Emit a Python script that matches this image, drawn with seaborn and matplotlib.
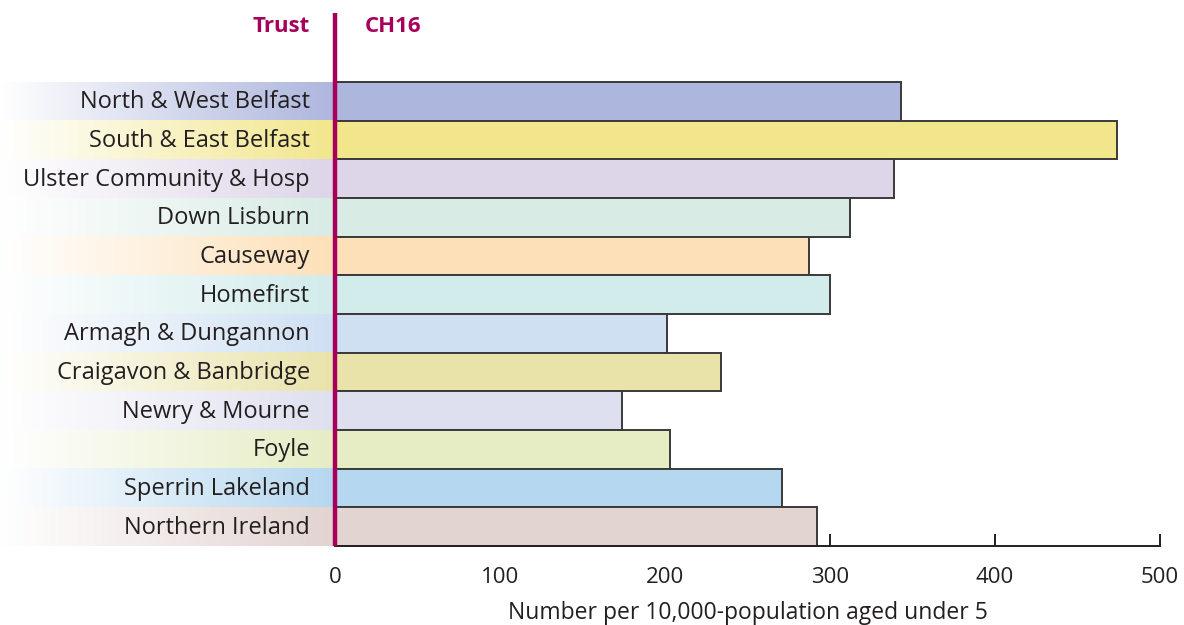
import matplotlib
matplotlib.use("Agg")
from matplotlib import pyplot as plt
from matplotlib.colors import to_rgb
import seaborn as sns
import numpy as np
import pandas as pd

# data
trusts = ["North & West Belfast", "South & East Belfast", "Ulster Community & Hosp",
          "Down Lisburn", "Causeway", "Homefirst", "Armagh & Dungannon",
          "Craigavon & Banbridge", "Newry & Mourne", "Foyle", "Sperrin Lakeland",
          "Northern Ireland"]
rates = [343, 474, 339, 312, 287, 300, 201, 234, 174, 203, 271, 292]
colours = ["#ADB6DD", "#F2E68C", "#DDD5E8", "#D8EBE5", "#FDE0B8", "#D2EBEB",
           "#CFE0F3", "#E9E3AA", "#DFE0EF", "#E6EDC4", "#B5D7EF", "#E2D4D0"]
ticks = [0, 100, 200, 300, 400, 500]

MAGENTA = "#A6005B"
INK = '#231f20'
FONT = ["Open Sans", "DejaVu Sans"]

sns.set_style("white")
plt.rcParams['font.family'] = FONT

df = pd.DataFrame({'trust': trusts, 'rate': rates})

fig = plt.figure(figsize=(11.84, 6.25), dpi=100)
ax = fig.add_axes([0, 1 - 546 / 625, 1, 546 / 625])
ax.set_axisbelow(True)

sns.barplot(data=df, x='rate', y='trust', hue='trust', palette=colours,
            saturation=1, orient='h', width=1, edgecolor='#3a3a3a',
            linewidth=1.4, legend=False, ax=ax, zorder=2)

# gradient backgrounds behind the labels
x_left = -335 / 1.65
for i, c in enumerate(colours):
    rgb = np.array(to_rgb(c))
    t = np.linspace(0, 1, 256)[:, None]
    grad = (1 - t) * np.ones(3) + t * rgb
    ax.imshow(grad[None, :, :], extent=(x_left, 0, i + 0.5, i - 0.5),
              aspect='auto', zorder=1)
    ax.text(-15.2, i + 0.03, trusts[i], ha='right', va='center',
            fontsize=17, color=INK, zorder=3)

ax.plot([0, 0], [11.5, -2.28], color=MAGENTA, lw=3.2, zorder=4,
        solid_capstyle='butt', clip_on=False)

ax.set_xlim(x_left, (1184 - 335) / 1.65)
ax.set_ylim(11.5, 11.5 - 546 / 38.67)
ax.set_yticks([])
ax.set_ylabel('')
ax.set_xticks(ticks)
ax.set_xticklabels([str(t) for t in ticks])
ax.tick_params(axis='x', bottom=True, direction='in', length=9, width=1.4,
               color=INK, pad=15, labelsize=16, labelcolor=INK)
ax.set_xlabel("Number per 10,000-population aged under 5", fontsize=16.5,
              color=INK)
ax.xaxis.set_label_coords(748 / 1184, -(613 - 546) / 546)
ax.xaxis.label.set_va('center')
sns.despine(ax=ax, left=True)
ax.spines['bottom'].set_bounds(0, 500)
ax.spines['bottom'].set_linewidth(1.4)
ax.spines['bottom'].set_color(INK)
ax.patch.set_alpha(0)

fig.text(310 / 1184, 1 - 26 / 625, "Trust", ha='right', va='center',
         fontsize=16, fontweight='bold', color=MAGENTA)
fig.text(365 / 1184, 1 - 26 / 625, "CH16", ha='left', va='center',
         fontsize=16, fontweight='bold', color=MAGENTA)

fig.savefig("out.png", dpi=100)
